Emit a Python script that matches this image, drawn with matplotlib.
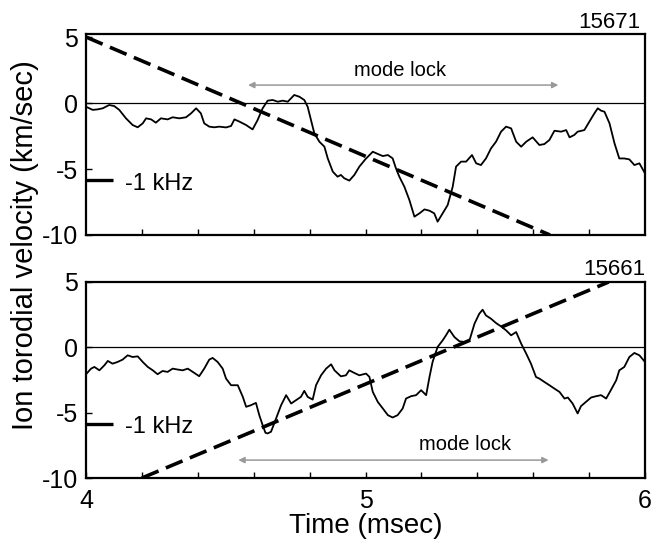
import matplotlib
matplotlib.use("Agg")
import matplotlib.pyplot as plt

plt.rcParams['font.family'] = ['Liberation Sans', 'DejaVu Sans']

# shot 15671 (top panel)
t_15671 = [4.000, 4.024, 4.042, 4.060, 4.083, 4.101, 4.119, 4.143, 4.167, 4.185,
           4.203, 4.215, 4.233, 4.250, 4.268, 4.292, 4.310, 4.334, 4.358, 4.376,
           4.394, 4.411, 4.423, 4.441, 4.459, 4.477, 4.501, 4.519, 4.531, 4.549,
           4.573, 4.596, 4.614, 4.632, 4.650, 4.668, 4.686, 4.704, 4.722, 4.745,
           4.763, 4.781, 4.793, 4.805, 4.817, 4.835, 4.853, 4.865, 4.883, 4.900,
           4.912, 4.924, 4.942, 4.960, 4.978, 5.000, 5.026, 5.044, 5.062, 5.080,
           5.097, 5.109, 5.121, 5.139, 5.157, 5.175, 5.193, 5.211, 5.229, 5.246,
           5.258, 5.276, 5.294, 5.312, 5.324, 5.342, 5.360, 5.381, 5.396, 5.413,
           5.431, 5.449, 5.467, 5.485, 5.503, 5.521, 5.539, 5.557, 5.575, 5.598,
           5.622, 5.640, 5.658, 5.676, 5.700, 5.718, 5.730, 5.747, 5.759, 5.783,
           5.801, 5.819, 5.831, 5.843, 5.855, 5.873, 5.891, 5.908, 5.926, 5.944,
           5.962, 5.980, 6.000]
v_15671 = [-0.28, -0.52, -0.48, -0.40, -0.15, -0.23, -0.52, -1.16, -1.67, -1.84,
           -1.54, -1.16, -1.24, -1.49, -1.16, -1.24, -1.08, -1.16, -1.08, -0.78,
           -0.40, -0.78, -1.54, -1.79, -1.84, -1.79, -1.85, -1.74, -1.24, -1.41,
           -1.67, -2.00, -1.29, -0.40, 0.18, 0.23, 0.10, 0.18, 0.10, 0.61,
           0.48, 0.23, -0.28, -1.29, -2.30, -2.93, -3.31, -4.20, -5.20, -5.58,
           -5.45, -5.70, -5.88, -5.45, -4.82, -4.25, -3.69, -3.86, -4.02, -3.94,
           -4.19, -4.95, -5.58, -6.34, -7.35, -8.61, -8.36, -8.06, -8.16, -8.36,
           -8.99, -8.36, -7.73, -6.34, -4.82, -4.44, -4.44, -3.94, -4.57, -4.70,
           -4.20, -3.44, -2.93, -2.17, -1.79, -1.92, -2.93, -3.31, -2.93, -2.60,
           -3.18, -3.11, -2.80, -2.10, -2.17, -2.05, -2.60, -2.42, -2.17, -2.05,
           -1.41, -0.78, -0.40, -0.58, -0.66, -1.54, -3.06, -4.20, -4.20, -4.27,
           -4.70, -4.57, -5.33]

# shot 15661 (bottom panel)
t_15661 = [4.000, 4.018, 4.030, 4.048, 4.066, 4.078, 4.095, 4.113, 4.131, 4.149,
           4.167, 4.185, 4.203, 4.221, 4.239, 4.256, 4.274, 4.292, 4.310, 4.328,
           4.346, 4.364, 4.382, 4.405, 4.423, 4.441, 4.453, 4.471, 4.489, 4.501,
           4.519, 4.543, 4.561, 4.573, 4.590, 4.608, 4.620, 4.632, 4.642, 4.650,
           4.662, 4.680, 4.698, 4.716, 4.734, 4.751, 4.769, 4.781, 4.793, 4.811,
           4.823, 4.841, 4.859, 4.877, 4.889, 4.912, 4.930, 4.942, 4.960, 4.978,
           5.002, 5.014, 5.026, 5.044, 5.062, 5.080, 5.097, 5.115, 5.133, 5.145,
           5.163, 5.181, 5.199, 5.217, 5.229, 5.240, 5.258, 5.276, 5.288, 5.300,
           5.318, 5.336, 5.354, 5.372, 5.390, 5.407, 5.419, 5.431, 5.449, 5.467,
           5.485, 5.503, 5.521, 5.539, 5.557, 5.575, 5.592, 5.610, 5.622, 5.640,
           5.658, 5.676, 5.694, 5.712, 5.724, 5.741, 5.759, 5.771, 5.789, 5.807,
           5.825, 5.843, 5.861, 5.879, 5.897, 5.908, 5.926, 5.944, 5.962, 5.980,
           6.000]
v_15661 = [-2.06, -1.63, -1.50, -1.76, -1.37, -1.04, -1.25, -1.12, -0.94, -0.61,
           -0.74, -0.69, -1.12, -1.50, -1.76, -2.06, -1.81, -1.88, -1.63, -1.70,
           -1.76, -1.63, -1.88, -2.21, -1.63, -0.94, -0.81, -1.12, -1.63, -2.39,
           -2.90, -2.90, -3.79, -4.55, -4.43, -4.25, -5.19, -5.95, -6.54, -6.59,
           -6.46, -5.45, -4.43, -3.66, -4.30, -4.05, -3.79, -3.33, -3.79, -4.00,
           -2.90, -2.14, -1.63, -1.30, -1.76, -2.22, -2.14, -1.76, -1.96, -2.14,
           -2.01, -2.26, -3.41, -4.18, -4.68, -5.19, -5.37, -5.19, -4.68, -3.92,
           -3.74, -3.66, -3.28, -3.66, -2.26, -1.12, 0.03, 0.53, 0.92, 1.35,
           0.79, 0.46, 0.41, 0.53, 1.81, 2.57, 2.88, 2.44, 2.19, 1.86,
           1.60, 1.30, 0.92, 1.17, 0.28, -0.48, -1.25, -2.27, -2.39, -2.65,
           -2.90, -3.16, -3.41, -3.92, -3.84, -4.30, -5.06, -4.50, -4.17, -3.84,
           -3.74, -3.66, -3.92, -3.23, -2.52, -1.76, -1.50, -0.74, -0.43, -0.61,
           -1.12]

# -1 kHz reference slopes (start and end points)
ref_t_15671 = [4.00, 5.66]
ref_v_15671 = [5.0, -10.0]
ref_t_15661 = [4.20, 5.87]
ref_v_15661 = [-10.0, 5.0]

# mode-lock intervals
lock_15671 = (4.58, 5.69)
lock_15661 = (4.545, 5.655)

fig = plt.figure(figsize=(6.54, 5.47), dpi=100)
ax1 = fig.add_axes([86 / 654, 1 - 235 / 547, 559 / 654, 201 / 547])
ax2 = fig.add_axes([86 / 654, 1 - 478 / 547, 559 / 654, 196 / 547])

panels = [
    (ax1, t_15671, v_15671, ref_t_15671, ref_v_15671, lock_15671, 1.36,
     (5.125, 2.05), '15671', (5.982, 5.68), 5.23),
    (ax2, t_15661, v_15661, ref_t_15661, ref_v_15661, lock_15661, -8.63,
     (5.358, -7.86), '15661', (6.0, 5.5), 5.0),
]

for ax, t, v, rt, rv, lock, lock_y, lock_txt, shot, shot_pos, ytop in panels:
    ax.axhline(0, color='black', lw=0.9)
    ax.plot(t, v, color='black', lw=1.3)
    ax.plot(rt, rv, color='black', lw=2.6, dashes=(5, 2.2), solid_capstyle='butt')

    # frequency scale marker
    ax.plot([4.0, 4.095], [-5.83, -5.83], color='black', lw=2.4, solid_capstyle='butt')
    ax.text(4.14, -6.56, '-1 kHz', fontsize=17, va='baseline', ha='left')

    ax.annotate('', xy=(lock[1], lock_y), xytext=(lock[0], lock_y),
                arrowprops=dict(arrowstyle='<|-|>', color='0.6', lw=1.1,
                                mutation_scale=9, shrinkA=0, shrinkB=0))
    ax.text(lock_txt[0], lock_txt[1], 'mode lock', fontsize=14.5,
            ha='center', va='baseline')
    ax.text(shot_pos[0], shot_pos[1], shot, fontsize=16, ha='right',
            va='baseline', clip_on=False)

    ax.set_xlim(4, 6)
    ax.set_ylim(-10, ytop)
    ax.set_yticks([-10, -5, 0, 5])
    ax.set_yticklabels(['-10', '-5', '0', '5'])
    ax.set_xticks([4.2, 4.4, 4.6, 4.8, 5.0, 5.2, 5.4, 5.6, 5.8])
    ax.tick_params(axis='both', direction='in', length=4, width=1,
                   labelsize=18, pad=6)
    for s in ax.spines.values():
        s.set_linewidth(1.6)

ax1.set_xticklabels([])
ax2.set_xticks([4, 4.2, 4.4, 4.6, 4.8, 5.0, 5.2, 5.4, 5.6, 5.8, 6])
ax2.set_xticklabels(['4', '', '', '', '', '5', '', '', '', '', '6'])
ax2.tick_params(axis='x', pad=8)

ax2.set_xlabel('Time (msec)', fontsize=20, labelpad=0)
fig.text(25 / 654, 1 - 245 / 547, 'Ion torodial velocity (km/sec)', fontsize=21,
         rotation=90, ha='center', va='center')

fig.savefig('out.png', dpi=100)
